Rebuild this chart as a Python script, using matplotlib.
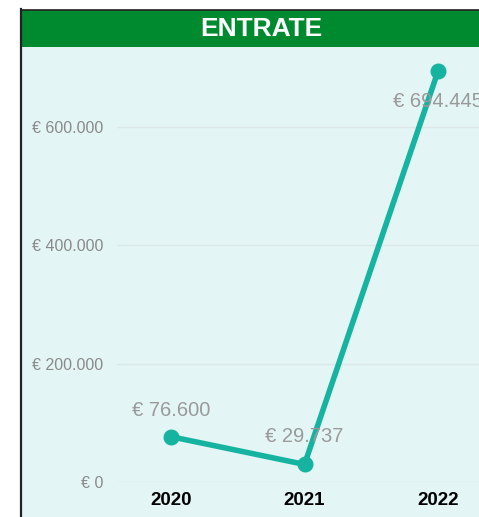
import matplotlib
matplotlib.use("Agg")
import matplotlib.pyplot as plt
from matplotlib.patches import Rectangle
from matplotlib.lines import Line2D

years = ["2020", "2021", "2022"]
entrate = [76600, 29737, 694445]
value_labels = ["€ 76.600", "€ 29.737", "€ 694.445"]
y_ticks = [0, 200000, 400000, 600000]
y_tick_labels = ["€ 0", "€ 200.000", "€ 400.000", "€ 600.000"]
title = "ENTRATE"

W, H = 479, 517
fig = plt.figure(figsize=(W / 100, H / 100), dpi=100)
fig.patch.set_facecolor("white")

def fx(px):
    return px / W

def fy(py):
    return 1 - py / H

# panel background
fig.add_artist(Rectangle((fx(21), 0), fx(W) - fx(21) + 0.01, fy(47), transform=fig.transFigure,
                         facecolor="#E3F5F5", edgecolor="none", zorder=0))
# header
fig.add_artist(Rectangle((fx(21), fy(47)), 1.0, fy(10) - fy(47), transform=fig.transFigure,
                         facecolor="#008A30", edgecolor="none", zorder=0))
# borders
fig.add_artist(Line2D([fx(21), fx(21)], [0, fy(9)], transform=fig.transFigure, color="#222222", lw=1.6, zorder=1))
fig.add_artist(Line2D([fx(21), 1.0], [fy(9.5), fy(9.5)], transform=fig.transFigure, color="#222222", lw=1.2, zorder=1))
fig.text(fx(261), fy(29), title, color="white", fontsize=19, fontweight="bold",
         family="Liberation Sans", ha="center", va="center")

# axes: left 117, right 479, bottom 482 (y=0), top 47
ax_left, ax_right, ax_bottom, ax_top = 117, W, 482, 47
ax = fig.add_axes([fx(ax_left), fy(ax_bottom), fx(ax_right) - fx(ax_left), fy(ax_top) - fy(ax_bottom)])
ax.set_facecolor("none")
x = list(range(len(years)))
ppu = 133.5
ax.set_xlim((ax_left - 171) / ppu, (ax_right - 171) / ppu)
ax.set_ylim(0, (ax_bottom - ax_top) / 118.3 * 200000)

ax.plot(x, entrate, color="#17B3A1", lw=4, marker="o", markersize=10.5, clip_on=False,
        solid_capstyle="round", zorder=3)

offsets = [19, 20, -22]
for xi, yi, lab, off in zip(x, entrate, value_labels, offsets):
    ax.annotate(lab, (xi, yi), xytext=(0, off), textcoords="offset points", ha="center",
                va="center", fontsize=14.5, color="#9A9A9A", family="Liberation Sans",
                annotation_clip=False, zorder=4)

ax.set_yticks(y_ticks)
ax.set_yticklabels(y_tick_labels, family="Liberation Sans", fontsize=11.5, color="#8A8A8A")
ax.set_xticks(x)
ax.set_xticklabels(years, family="Liberation Sans", fontsize=13.5, fontweight="bold", color="black")
ax.tick_params(axis="y", length=0, pad=10)
ax.tick_params(axis="x", length=0, pad=7)
ax.grid(axis="y", color="#DCE8E8", lw=1)
ax.set_axisbelow(True)
for s in ax.spines.values():
    s.set_visible(False)

fig.savefig("out.png", dpi=100)
